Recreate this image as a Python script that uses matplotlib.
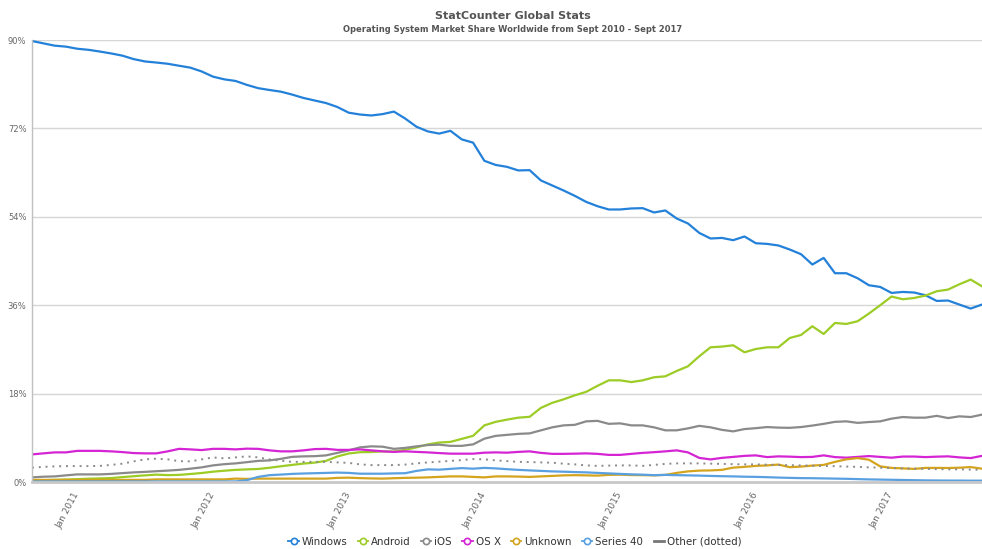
import numpy as np
import matplotlib
matplotlib.use("Agg")
import matplotlib.pyplot as plt
from matplotlib.lines import Line2D

# Monthly data, Sept 2010 .. Sept 2017 (85 months), values in %
windows = [89.79, 89.32, 88.85, 88.65, 88.22, 88.0, 87.65, 87.26, 86.81, 86.1,
           85.63, 85.41, 85.16, 84.76, 84.37, 83.6, 82.54, 81.99, 81.66, 80.86,
           80.19, 79.82, 79.48, 78.89, 78.2, 77.68, 77.16, 76.36, 75.2, 74.83,
           74.63, 74.91, 75.42, 74.0, 72.33, 71.39, 70.94, 71.51, 69.76, 69.1,
           65.4, 64.56, 64.17, 63.44, 63.5, 61.4, 60.38, 59.36, 58.26, 57.04,
           56.16, 55.49, 55.49, 55.7, 55.76, 54.88, 55.29, 53.66, 52.64, 50.72,
           49.58, 49.7, 49.24, 49.99, 48.62, 48.48, 48.16, 47.34, 46.38, 44.28,
           45.63, 42.51, 42.51, 41.49, 40.06, 39.72, 38.5, 38.7, 38.58, 38.03,
           36.87, 36.95, 36.13, 35.32, 36.13]
android = [0.33, 0.37, 0.43, 0.5, 0.57, 0.67, 0.73, 0.8, 1.0, 1.18,
           1.35, 1.5, 1.4, 1.45, 1.63, 1.83, 2.1, 2.3, 2.47, 2.57,
           2.65, 2.9, 3.2, 3.48, 3.75, 3.95, 4.3, 5.2, 5.8, 6.07,
           6.1, 6.24, 6.2, 6.55, 7.05, 7.66, 8.03, 8.17, 8.78, 9.4,
           11.53, 12.25, 12.7, 13.1, 13.27, 15.1, 16.12, 16.83, 17.65, 18.36,
           19.58, 20.7, 20.7, 20.35, 20.7, 21.32, 21.52, 22.6, 23.56, 25.6,
           27.43, 27.57, 27.84, 26.41, 27.08, 27.43, 27.43, 29.32, 29.94, 31.71,
           30.14, 32.38, 32.18, 32.73, 34.3, 35.99, 37.76, 37.21, 37.47, 37.96,
           38.84, 39.18, 40.26, 41.22, 39.84]
ios = [0.94, 1.08, 1.14, 1.35, 1.55, 1.55, 1.55, 1.65, 1.81, 1.96,
       2.06, 2.2, 2.32, 2.47, 2.71, 2.98, 3.38, 3.63, 3.79, 4.04,
       4.3, 4.4, 4.71, 5.12, 5.22, 5.26, 5.42, 5.93, 6.44, 7.05,
       7.26, 7.19, 6.75, 6.95, 7.26, 7.52, 7.6, 7.36, 7.36, 7.66,
       8.82, 9.39, 9.6, 9.8, 9.9, 10.52, 11.13, 11.53, 11.64, 12.35,
       12.45, 11.84, 11.94, 11.53, 11.53, 11.13, 10.52, 10.52, 10.92, 11.43,
       11.13, 10.62, 10.31, 10.78, 10.96, 11.19, 11.07, 11.03, 11.19, 11.49,
       11.84, 12.25, 12.35, 12.04, 12.21, 12.35, 12.9, 13.23, 13.1, 13.1,
       13.47, 13.02, 13.37, 13.23, 13.72]
osx = [5.62, 5.83, 6.03, 6.03, 6.34, 6.34, 6.34, 6.24, 6.09, 5.89,
       5.83, 5.83, 6.24, 6.75, 6.64, 6.5, 6.75, 6.75, 6.64, 6.79,
       6.75, 6.44, 6.24, 6.24, 6.44, 6.7, 6.75, 6.54, 6.54, 6.64,
       6.44, 6.24, 6.13, 6.24, 6.13, 6.03, 5.89, 5.77, 5.77, 5.77,
       5.97, 6.03, 5.97, 6.13, 6.24, 5.93, 5.73, 5.73, 5.77, 5.83,
       5.73, 5.52, 5.52, 5.73, 5.93, 6.07, 6.24, 6.44, 6.03, 4.91,
       4.6, 4.91, 5.11, 5.32, 5.42, 5.07, 5.22, 5.16, 5.07, 5.11,
       5.42, 5.07, 4.95, 5.11, 5.28, 5.11, 4.95, 5.18, 5.18, 5.07,
       5.16, 5.22, 5.01, 4.87, 5.32]
unknown = [0.43, 0.43, 0.43, 0.43, 0.43, 0.43, 0.43, 0.43, 0.43, 0.43,
           0.43, 0.53, 0.53, 0.53, 0.53, 0.53, 0.53, 0.53, 0.69, 0.63,
           0.69, 0.69, 0.69, 0.69, 0.69, 0.69, 0.69, 0.84, 0.88, 0.79,
           0.73, 0.69, 0.77, 0.84, 0.88, 0.94, 1.04, 1.14, 1.14, 1.04,
           0.94, 1.14, 1.14, 1.1, 1.04, 1.14, 1.24, 1.35, 1.39, 1.35,
           1.3, 1.45, 1.49, 1.41, 1.39, 1.35, 1.45, 1.85, 2.16, 2.32,
           2.36, 2.47, 2.93, 3.08, 3.28, 3.38, 3.55, 3.02, 3.14, 3.34,
           3.48, 4.1, 4.61, 4.87, 4.54, 3.18, 2.87, 2.77, 2.67, 2.87,
           2.87, 2.85, 2.91, 3.04, 2.71]
series40 = [0.12, 0.12, 0.12, 0.12, 0.12, 0.12, 0.12, 0.12, 0.12, 0.12,
            0.12, 0.12, 0.12, 0.12, 0.12, 0.12, 0.12, 0.12, 0.12, 0.37,
            1.04, 1.39, 1.51, 1.65, 1.73, 1.79, 1.85, 1.92, 1.85, 1.69,
            1.69, 1.69, 1.75, 1.79, 2.26, 2.57, 2.51, 2.67, 2.83, 2.71,
            2.87, 2.77, 2.61, 2.47, 2.36, 2.26, 2.16, 2.1, 2.02, 1.96,
            1.85, 1.75, 1.65, 1.55, 1.49, 1.39, 1.45, 1.39, 1.35, 1.3,
            1.24, 1.18, 1.14, 1.08, 1.04, 0.98, 0.9, 0.84, 0.79, 0.77,
            0.73, 0.69, 0.65, 0.59, 0.53, 0.49, 0.45, 0.41, 0.37, 0.33,
            0.31, 0.29, 0.29, 0.27, 0.27]
other = [2.93, 3.08, 3.18, 3.24, 3.24, 3.24, 3.28, 3.48, 3.73, 4.2,
         4.61, 4.75, 4.61, 4.24, 4.2, 4.61, 5.01, 4.81, 5.01, 5.22,
         5.01, 4.61, 4.34, 4.1, 4.1, 4.1, 4.1, 3.99, 3.89, 3.59,
         3.44, 3.44, 3.44, 3.55, 3.79, 3.99, 4.14, 4.3, 4.46, 4.67,
         4.61, 4.4, 4.26, 4.1, 4.06, 3.99, 3.93, 3.73, 3.59, 3.38,
         3.28, 3.34, 3.38, 3.38, 3.28, 3.48, 3.69, 3.79, 3.79, 3.79,
         3.73, 3.69, 3.63, 3.59, 3.59, 3.53, 3.46, 3.42, 3.38, 3.32,
         3.26, 3.22, 3.14, 3.08, 2.98, 2.91, 2.83, 2.77, 2.71, 2.67,
         2.61, 2.57, 2.57, 2.53, 2.47]

tick_labels = ["Jan 2011", "Jan 2012", "Jan 2013", "Jan 2014",
               "Jan 2015", "Jan 2016", "Jan 2017"]
tick_months = [4, 16, 28, 40, 52, 64, 76]   # month index since Sept 2010
y_ticks = [0, 18, 36, 54, 72, 90]

series = [
    ("Windows", windows, "#2381d9", "-"),
    ("Android", android, "#9ccc25", "-"),
    ("iOS", ios, "#8a8a8a", "-"),
    ("OS X", osx, "#d424d4", "-"),
    ("Unknown", unknown, "#d4a41e", "-"),
    ("Series 40", series40, "#5aa0e0", "-"),
]

plt.rcParams['font.family'] = ['DejaVu Sans']
fig = plt.figure(figsize=(9.82, 5.49), dpi=100)
ax = fig.add_axes([32/982, 1-482/549, 950/982, 442/549])

x = np.arange(len(windows))
for name, vals, col, ls in series:
    ax.plot(x, vals, color=col, lw=1.6, ls=ls, solid_joinstyle='round')
ax.plot(x, other, color="#8a8a8a", lw=1.4, ls=(0, (1, 2.5)))

ax.set_xlim(0, len(windows) - 1)
ax.set_ylim(0, 90)
ax.set_yticks(y_ticks)
ax.set_yticklabels([f"{v}%" for v in y_ticks], fontsize=6, color="#666666")
ax.set_xticks(tick_months)
ax.set_xticklabels(tick_labels, fontsize=6.5, color="#666666", rotation=62,
                   ha='right', va='center', rotation_mode='anchor')
ax.tick_params(axis='x', length=0, pad=8)
ax.tick_params(axis='y', length=0, pad=4)
ax.grid(axis='y', color="#d6d6d6", lw=1)
ax.set_axisbelow(True)
for s in ['top', 'right']:
    ax.spines[s].set_visible(False)
ax.spines['left'].set_color("#c0c0c0")
ax.spines['left'].set_linewidth(1)
ax.spines['bottom'].set_color("#c8c8c8")
ax.spines['bottom'].set_linewidth(2)

fig.text(513/982, 1-16/549, "StatCounter Global Stats", ha='center', va='center',
         fontsize=8, fontweight='bold', color="#555555")
fig.text(513/982, 1-29/549,
         "Operating System Market Share Worldwide from Sept 2010 - Sept 2017",
         ha='center', va='center', fontsize=6, fontweight='bold', color="#555555")

handles = []
for name, vals, col, ls in series:
    handles.append(Line2D([0], [0], color=col, lw=1.3, marker='o', markersize=4.5,
                          markerfacecolor='white', markeredgecolor=col,
                          markeredgewidth=1.2, label=name))
handles.append(Line2D([0], [0], color="#777777", lw=2, label="Other (dotted)"))
fig.legend(handles=handles, loc='center', bbox_to_anchor=(515/982, 1-542/549),
           ncol=7, frameon=False, fontsize=7.4, handlelength=1.0,
           handletextpad=0.3, columnspacing=1.0, labelcolor="#333333")

fig.savefig("out.png", dpi=100)
